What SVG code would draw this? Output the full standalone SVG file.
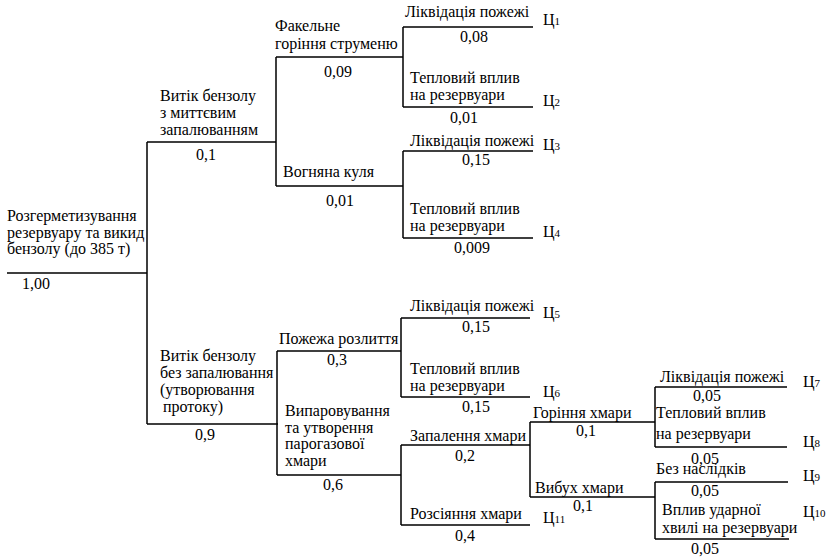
<svg xmlns="http://www.w3.org/2000/svg" width="830" height="557" viewBox="0 0 830 557">
  <rect width="830" height="557" fill="#fff"/>

  <!-- connectors of the event tree -->
  <g id="connectors" fill="none" stroke="#000" stroke-width="1.5">
    <path d="M7 273 H147 M147 142 V424 M147 142 H276 M147 424 H278"/>
    <path d="M276 57 V186 M276 57 H403 M276 186 H403"/>
    <path d="M403 27 V107 M403 27 H533 M403 107 H533"/>
    <path d="M403 151 V238 M403 151 H533 M403 238 H533"/>
    <path d="M277 351 V475 M277 351 H401 M277 475 H401"/>
    <path d="M401 318 V397 M401 318 H530 M401 397 H530"/>
    <path d="M401 445 V525 M401 445 H530 M401 525 H530"/>
    <path d="M530 422 V497 M530 422 H655 M530 497 H655"/>
    <path d="M655 387 V447 M655 387 H787 M655 447 H787"/>
    <path d="M655 482 V539 M655 482 H788 M655 539 H789"/>
  </g>

  <g id="root">
    <text font-family="Liberation Serif, serif" font-size="16" x="7" y="221">Розгерметизування</text>
    <text font-family="Liberation Serif, serif" font-size="16" x="7" y="238">резервуару та викид</text>
    <text font-family="Liberation Serif, serif" font-size="16" x="7" y="254">бензолу (до 385 т)</text>
    <text font-family="Liberation Serif, serif" font-size="16" text-anchor="middle" x="36" y="289">1,00</text>
  </g>

  <g id="leak-ignited">
    <text font-family="Liberation Serif, serif" font-size="16" x="160" y="101">Витік бензолу</text>
    <text font-family="Liberation Serif, serif" font-size="16" x="160" y="118">з миттєвим</text>
    <text font-family="Liberation Serif, serif" font-size="16" x="160" y="135">запалюванням</text>
    <text font-family="Liberation Serif, serif" font-size="16" text-anchor="middle" x="206" y="160">0,1</text>
  </g>

  <g id="jet-fire">
    <text font-family="Liberation Serif, serif" font-size="16" x="275" y="31">Факельне</text>
    <text font-family="Liberation Serif, serif" font-size="16" x="275" y="49">горіння струменю</text>
    <text font-family="Liberation Serif, serif" font-size="16" text-anchor="middle" x="338" y="77">0,09</text>
  </g>

  <g id="fireball">
    <text font-family="Liberation Serif, serif" font-size="16" x="283" y="177">Вогняна куля</text>
    <text font-family="Liberation Serif, serif" font-size="16" text-anchor="middle" x="340" y="206">0,01</text>
  </g>

  <g id="c1">
    <text font-family="Liberation Serif, serif" font-size="16" x="405" y="17">Ліквідація пожежі</text>
    <text font-family="Liberation Serif, serif" font-size="16" text-anchor="middle" x="474" y="42">0,08</text>
    <text font-family="Liberation Serif, serif" font-size="16" x="543" y="25">Ц<tspan font-size="11">1</tspan></text>
  </g>

  <g id="c2">
    <text font-family="Liberation Serif, serif" font-size="16" x="410" y="83">Тепловий вплив</text>
    <text font-family="Liberation Serif, serif" font-size="16" x="410" y="100">на резервуари</text>
    <text font-family="Liberation Serif, serif" font-size="16" text-anchor="middle" x="464" y="123">0,01</text>
    <text font-family="Liberation Serif, serif" font-size="16" x="543" y="106">Ц<tspan font-size="11">2</tspan></text>
  </g>

  <g id="c3">
    <text font-family="Liberation Serif, serif" font-size="16" x="410" y="146">Ліквідація пожежі</text>
    <text font-family="Liberation Serif, serif" font-size="16" text-anchor="middle" x="476" y="165">0,15</text>
    <text font-family="Liberation Serif, serif" font-size="16" x="543" y="150">Ц<tspan font-size="11">3</tspan></text>
  </g>

  <g id="c4">
    <text font-family="Liberation Serif, serif" font-size="16" x="410" y="214">Тепловий вплив</text>
    <text font-family="Liberation Serif, serif" font-size="16" x="410" y="231">на резервуари</text>
    <text font-family="Liberation Serif, serif" font-size="16" text-anchor="middle" x="472" y="253">0,009</text>
    <text font-family="Liberation Serif, serif" font-size="16" x="543" y="237">Ц<tspan font-size="11">4</tspan></text>
  </g>

  <g id="leak-unignited">
    <text font-family="Liberation Serif, serif" font-size="16" x="160" y="361">Витік бензолу</text>
    <text font-family="Liberation Serif, serif" font-size="16" x="160" y="378">без запалювання</text>
    <text font-family="Liberation Serif, serif" font-size="16" x="160" y="395">(утворювання</text>
    <text font-family="Liberation Serif, serif" font-size="16" x="163" y="412">протоку)</text>
    <text font-family="Liberation Serif, serif" font-size="16" text-anchor="middle" x="205" y="440">0,9</text>
  </g>

  <g id="pool-fire">
    <text font-family="Liberation Serif, serif" font-size="16" x="279" y="344">Пожежа розлиття</text>
    <text font-family="Liberation Serif, serif" font-size="16" text-anchor="middle" x="337" y="365">0,3</text>
  </g>

  <g id="evaporation">
    <text font-family="Liberation Serif, serif" font-size="16" x="285" y="416">Випаровування</text>
    <text font-family="Liberation Serif, serif" font-size="16" x="285" y="433">та утворення</text>
    <text font-family="Liberation Serif, serif" font-size="16" x="285" y="449">парогазової</text>
    <text font-family="Liberation Serif, serif" font-size="16" x="285" y="466">хмари</text>
    <text font-family="Liberation Serif, serif" font-size="16" text-anchor="middle" x="333" y="490">0,6</text>
  </g>

  <g id="c5">
    <text font-family="Liberation Serif, serif" font-size="16" x="410" y="311">Ліквідація пожежі</text>
    <text font-family="Liberation Serif, serif" font-size="16" text-anchor="middle" x="476" y="332">0,15</text>
    <text font-family="Liberation Serif, serif" font-size="16" x="543" y="318">Ц<tspan font-size="11">5</tspan></text>
  </g>

  <g id="c6">
    <text font-family="Liberation Serif, serif" font-size="16" x="410" y="374">Тепловий вплив</text>
    <text font-family="Liberation Serif, serif" font-size="16" x="410" y="391">на резервуари</text>
    <text font-family="Liberation Serif, serif" font-size="16" text-anchor="middle" x="476" y="412">0,15</text>
    <text font-family="Liberation Serif, serif" font-size="16" x="543" y="397">Ц<tspan font-size="11">6</tspan></text>
  </g>

  <g id="cloud-ignition">
    <text font-family="Liberation Serif, serif" font-size="16" x="410" y="441">Запалення хмари</text>
    <text font-family="Liberation Serif, serif" font-size="16" text-anchor="middle" x="465" y="461">0,2</text>
  </g>

  <g id="c11">
    <text font-family="Liberation Serif, serif" font-size="16" x="410" y="519">Розсіяння хмари</text>
    <text font-family="Liberation Serif, serif" font-size="16" text-anchor="middle" x="465" y="541">0,4</text>
    <text font-family="Liberation Serif, serif" font-size="16" x="543" y="523">Ц<tspan font-size="11">11</tspan></text>
  </g>

  <g id="cloud-burning">
    <text font-family="Liberation Serif, serif" font-size="16" x="533" y="418">Горіння хмари</text>
    <text font-family="Liberation Serif, serif" font-size="16" text-anchor="middle" x="586" y="436">0,1</text>
  </g>

  <g id="cloud-explosion">
    <text font-family="Liberation Serif, serif" font-size="16" x="535" y="493">Вибух хмари</text>
    <text font-family="Liberation Serif, serif" font-size="16" text-anchor="middle" x="583" y="511">0,1</text>
  </g>

  <g id="c7">
    <text font-family="Liberation Serif, serif" font-size="16" x="660" y="382">Ліквідація пожежі</text>
    <text font-family="Liberation Serif, serif" font-size="16" text-anchor="middle" x="707" y="401">0,05</text>
    <text font-family="Liberation Serif, serif" font-size="16" x="803" y="387">Ц<tspan font-size="11">7</tspan></text>
  </g>

  <g id="c8">
    <text font-family="Liberation Serif, serif" font-size="16" x="656" y="418">Тепловий вплив</text>
    <text font-family="Liberation Serif, serif" font-size="16" x="656" y="439">на резервуари</text>
    <text font-family="Liberation Serif, serif" font-size="16" text-anchor="middle" x="705" y="464">0,05</text>
    <text font-family="Liberation Serif, serif" font-size="16" x="803" y="447">Ц<tspan font-size="11">8</tspan></text>
  </g>

  <g id="c9">
    <text font-family="Liberation Serif, serif" font-size="16" x="656" y="474">Без наслідків</text>
    <text font-family="Liberation Serif, serif" font-size="16" text-anchor="middle" x="705" y="496">0,05</text>
    <text font-family="Liberation Serif, serif" font-size="16" x="803" y="481">Ц<tspan font-size="11">9</tspan></text>
  </g>

  <g id="c10">
    <text font-family="Liberation Serif, serif" font-size="16" x="662" y="515">Вплив ударної</text>
    <text font-family="Liberation Serif, serif" font-size="16" x="662" y="533">хвилі на резервуари</text>
    <text font-family="Liberation Serif, serif" font-size="16" text-anchor="middle" x="705" y="554">0,05</text>
    <text font-family="Liberation Serif, serif" font-size="16" x="803" y="517">Ц<tspan font-size="11">10</tspan></text>
  </g>
</svg>
